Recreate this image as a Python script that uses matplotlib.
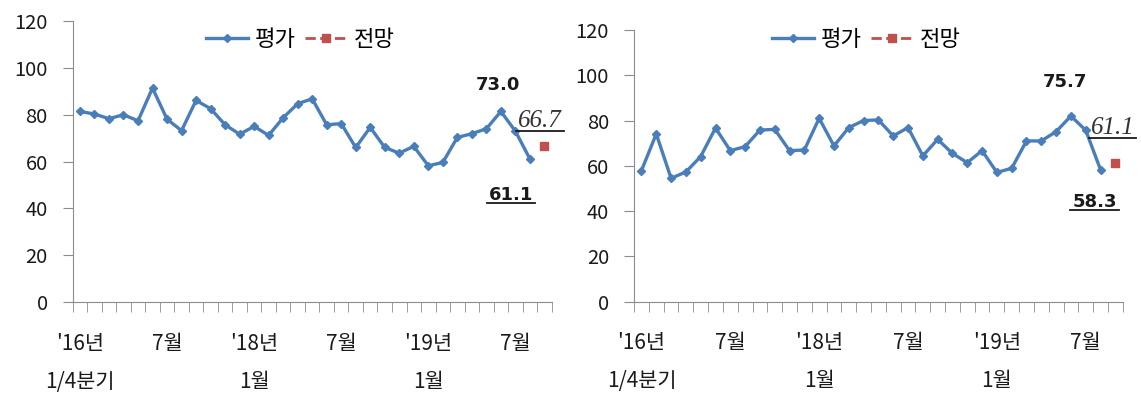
import matplotlib
matplotlib.use("Agg")
import matplotlib.pyplot as plt
from matplotlib.lines import Line2D

plt.rcParams['font.family'] = ['Noto Sans CJK KR', 'DejaVu Sans']

# data
n_cat = 33
label_pos = [0, 6, 12, 18, 24, 30]
tick_labels = ["'16년\n1/4분기", "7월", "'18년\n1월", "7월", "'19년\n1월", "7월"]

left_eval = [81.4, 80.3, 78.3, 80.0, 77.4, 91.4, 78.1, 73.2, 86.1, 82.6, 75.7,
             71.7, 75.0, 71.2, 78.7, 84.7, 86.8, 75.7, 76.2, 66.0, 74.6, 66.0,
             63.6, 66.5, 58.2, 59.6, 70.3, 71.9, 74.0, 81.4, 73.0, 61.1]
left_fcst = 66.7

right_eval = [57.9, 74.1, 54.5, 57.3, 64.1, 76.7, 66.7, 68.5, 75.8, 76.1, 66.7,
              67.0, 81.0, 68.8, 76.9, 80.0, 80.3, 73.2, 76.9, 64.4, 71.7, 65.5,
              61.4, 66.7, 57.1, 58.9, 71.0, 71.0, 75.1, 82.0, 75.7, 58.3]
right_fcst = 61.1

blue = '#4A7EBB'
red = '#C0504D'
axis_gray = '#8C8C8C'
txt = '#1A1A1A'

fig = plt.figure(figsize=(11.41, 3.94), dpi=100)
ax1 = fig.add_axes([0.0637, 0.2335, 0.4198, 0.713])
ax2 = fig.add_axes([0.5557, 0.2343, 0.4283, 0.6896])


def draw(ax, evals, fcst, prev_lbl, last_lbl, fcst_lbl, pos):
    xs = list(range(len(evals)))
    ax.plot(xs, evals, color=blue, lw=2.4, marker='D', ms=4.5, label='평가')
    ax.plot([len(evals)], [fcst], color=red, ls='--', lw=2, marker='s',
            ms=6, label='전망')
    ax.set_xlim(-0.5, n_cat - 0.5)
    ax.set_ylim(0, 120)
    ax.set_yticks(range(0, 121, 20))
    ax.set_xticks(label_pos)
    ax.set_xticklabels(tick_labels)
    ax.set_xticks([i - 0.5 for i in range(n_cat + 1)], minor=True)
    ax.tick_params(axis='x', which='major', length=0, pad=22, labelsize=15,
                   labelcolor=txt)
    ax.tick_params(axis='x', which='minor', length=7, color=axis_gray,
                   direction='out')
    ax.tick_params(axis='y', length=7, color=axis_gray, labelsize=14.5,
                   labelcolor=txt, pad=11)
    for lab in ax.get_xticklabels():
        lab.set_linespacing(1.95)
        lab.set_verticalalignment('top')
    for s in ['top', 'right']:
        ax.spines[s].set_visible(False)
    for s in ['left', 'bottom']:
        ax.spines[s].set_color(axis_gray)
    ax.legend(loc='upper center', bbox_to_anchor=pos['leg'], frameon=False,
              ncol=2, fontsize=16, handlelength=1.9, columnspacing=0.4,
              handletextpad=0.3, borderpad=0)
    ax.text(*pos['prev'], prev_lbl, ha='center', va='center',
            fontsize=13, fontweight='bold', color=txt, family='DejaVu Sans')
    t2 = ax.text(*pos['fcst'], fcst_lbl, ha='center', va='center',
                 fontsize=18, style='italic', color='#333333',
                 family='Liberation Serif', clip_on=False)
    t3 = ax.text(*pos['last'], last_lbl, ha='center', va='center',
                 fontsize=13, fontweight='bold', color=txt,
                 family='DejaVu Sans')
    return [t2, t3]


under = []
under += draw(ax1, left_eval, left_fcst, '73.0', '61.1', '66.7',
              {'leg': (0.475, 1.015), 'prev': (28.8, 92.5),
               'fcst': (31.7, 77.5), 'last': (29.7, 45.5)})
under += draw(ax2, right_eval, right_fcst, '75.7', '58.3', '61.1',
              {'leg': (0.475, 1.05), 'prev': (28.6, 97),
               'fcst': (31.8, 76.5), 'last': (30.6, 44)})

# underline the labels from their rendered extents
fig.canvas.draw()
r = fig.canvas.get_renderer()
H = fig.bbox.height
W = fig.bbox.width
for t in under:
    bb = t.get_window_extent(renderer=r)
    y = (bb.y0 + 1) / H
    fig.add_artist(Line2D([(bb.x0 - 2) / W, (bb.x1 + 2) / W], [y, y],
                          transform=fig.transFigure, color=txt, lw=1.3))

fig.savefig('out.png', dpi=100)
